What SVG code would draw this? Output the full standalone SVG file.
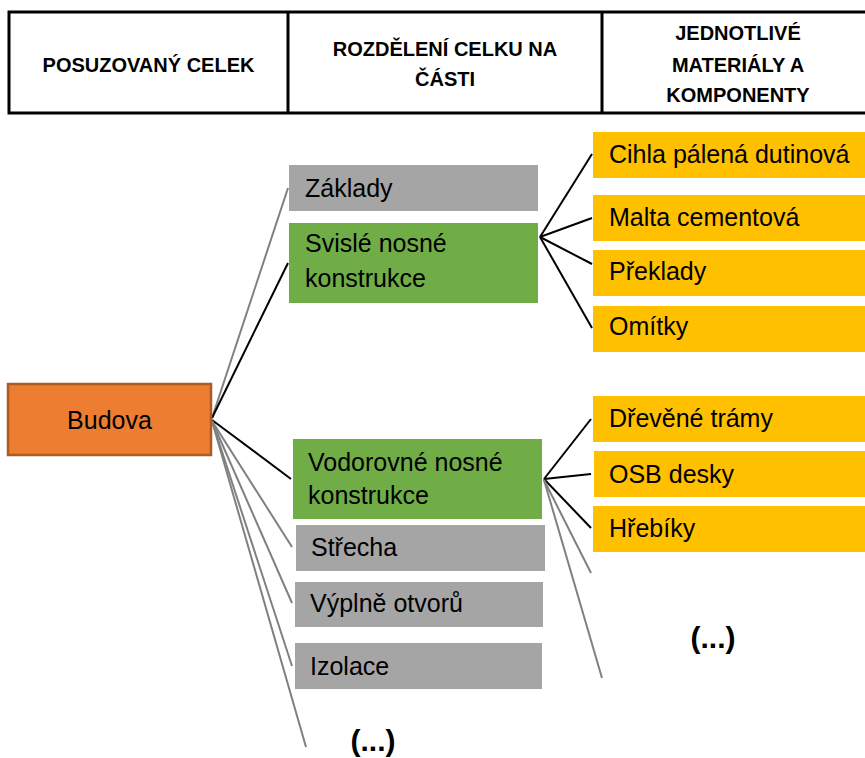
<svg xmlns="http://www.w3.org/2000/svg" width="865" height="758" viewBox="0 0 865 758">
<style>
.hdr{font-family:"Liberation Sans",Arial,sans-serif;font-weight:bold;font-size:20px;fill:#000;text-anchor:middle}
.t{font-family:"Liberation Sans",Arial,sans-serif;font-size:25px;fill:#000}
.dots{font-family:"Liberation Sans",Arial,sans-serif;font-weight:bold;font-size:30px;fill:#000;text-anchor:middle}
.gray{fill:#A5A5A5}
.green{fill:#70AD47}
.yellow{fill:#FFC000}
.orange{fill:#ED7D31;stroke:#AE5A21;stroke-width:2.5}
.cb{stroke:#000;stroke-width:2;fill:none}
.cg{stroke:#808080;stroke-width:2;fill:none}
.tbl{stroke:#000;stroke-width:3;fill:none}
</style>
<rect width="865" height="758" fill="#fff"/>
<g id="header">
<path class="tbl" d="M870 12 H9 V113 H870 M288 12 V113 M602 12 V113"/>
<text class="hdr" x="148.5" y="72">POSUZOVANÝ CELEK</text>
<text class="hdr" x="445" y="56">ROZDĚLENÍ CELKU NA</text>
<text class="hdr" x="445" y="86">ČÁSTI</text>
<text class="hdr" x="738" y="40">JEDNOTLIVÉ</text>
<text class="hdr" x="738" y="72">MATERIÁLY A</text>
<text class="hdr" x="738" y="102">KOMPONENTY</text>
</g>
<g id="connectors">
<line class="cg" x1="212" y1="418" x2="288" y2="188"/>
<line class="cb" x1="212" y1="418" x2="288" y2="263"/>
<line class="cb" x1="212" y1="420" x2="291" y2="479"/>
<line class="cg" x1="212" y1="421" x2="292" y2="547"/>
<line class="cg" x1="212" y1="421" x2="292" y2="603"/>
<line class="cg" x1="212" y1="421" x2="292" y2="666"/>
<line class="cg" x1="212" y1="421" x2="306" y2="747"/>
<line class="cb" x1="540" y1="237" x2="592" y2="154"/>
<line class="cb" x1="540" y1="237" x2="592" y2="218"/>
<line class="cb" x1="540" y1="237" x2="592" y2="264"/>
<line class="cb" x1="540" y1="237" x2="592" y2="328"/>
<line class="cb" x1="544" y1="479" x2="591" y2="419"/>
<line class="cb" x1="544" y1="479" x2="591" y2="474"/>
<line class="cb" x1="544" y1="479" x2="591" y2="528"/>
<line class="cg" x1="544" y1="480" x2="591" y2="573"/>
<line class="cg" x1="544" y1="480" x2="602" y2="678"/>
</g>
<g id="budova">
<rect class="orange" x="8" y="384" width="203" height="71"/>
<text class="t" x="109.5" y="429" text-anchor="middle">Budova</text>
</g>
<g id="zaklady">
<rect class="gray" x="289" y="165" width="249" height="46"/>
<text class="t" x="305" y="197">Základy</text>
</g>
<g id="svisle">
<rect class="green" x="289" y="223" width="249" height="80"/>
<text class="t" x="305" y="252">Svislé nosné</text>
<text class="t" x="305" y="287">konstrukce</text>
</g>
<g id="vodorovne">
<rect class="green" x="293" y="439" width="249" height="80"/>
<text class="t" x="308" y="471">Vodorovné nosné</text>
<text class="t" x="308" y="504">konstrukce</text>
</g>
<g id="strecha">
<rect class="gray" x="296" y="525" width="249" height="46"/>
<text class="t" x="311" y="556">Střecha</text>
</g>
<g id="vyplne">
<rect class="gray" x="295" y="582" width="248" height="45"/>
<text class="t" x="310" y="612">Výplně otvorů</text>
</g>
<g id="izolace">
<rect class="gray" x="295" y="643" width="247" height="46"/>
<text class="t" x="310" y="675">Izolace</text>
</g>
<g id="dots-left">
<text class="dots" x="373" y="751">(...)</text>
</g>
<g id="cihla">
<rect class="yellow" x="593" y="132" width="272" height="46"/>
<text class="t" x="609" y="163">Cihla pálená dutinová</text>
</g>
<g id="malta">
<rect class="yellow" x="593" y="195" width="272" height="46"/>
<text class="t" x="609" y="226">Malta cementová</text>
</g>
<g id="preklady">
<rect class="yellow" x="593" y="250" width="272" height="46"/>
<text class="t" x="609" y="280">Překlady</text>
</g>
<g id="omitky">
<rect class="yellow" x="593" y="306" width="272" height="46"/>
<text class="t" x="609" y="335">Omítky</text>
</g>
<g id="dreveno">
<rect class="yellow" x="593" y="396" width="272" height="46"/>
<text class="t" x="609" y="427">Dřevěné trámy</text>
</g>
<g id="osb">
<rect class="yellow" x="594" y="451" width="271" height="46"/>
<text class="t" x="609" y="483">OSB desky</text>
</g>
<g id="hrebiky">
<rect class="yellow" x="593" y="506" width="272" height="46"/>
<text class="t" x="609" y="537">Hřebíky</text>
</g>
<g id="dots-right">
<text class="dots" x="713" y="648">(...)</text>
</g>
</svg>
